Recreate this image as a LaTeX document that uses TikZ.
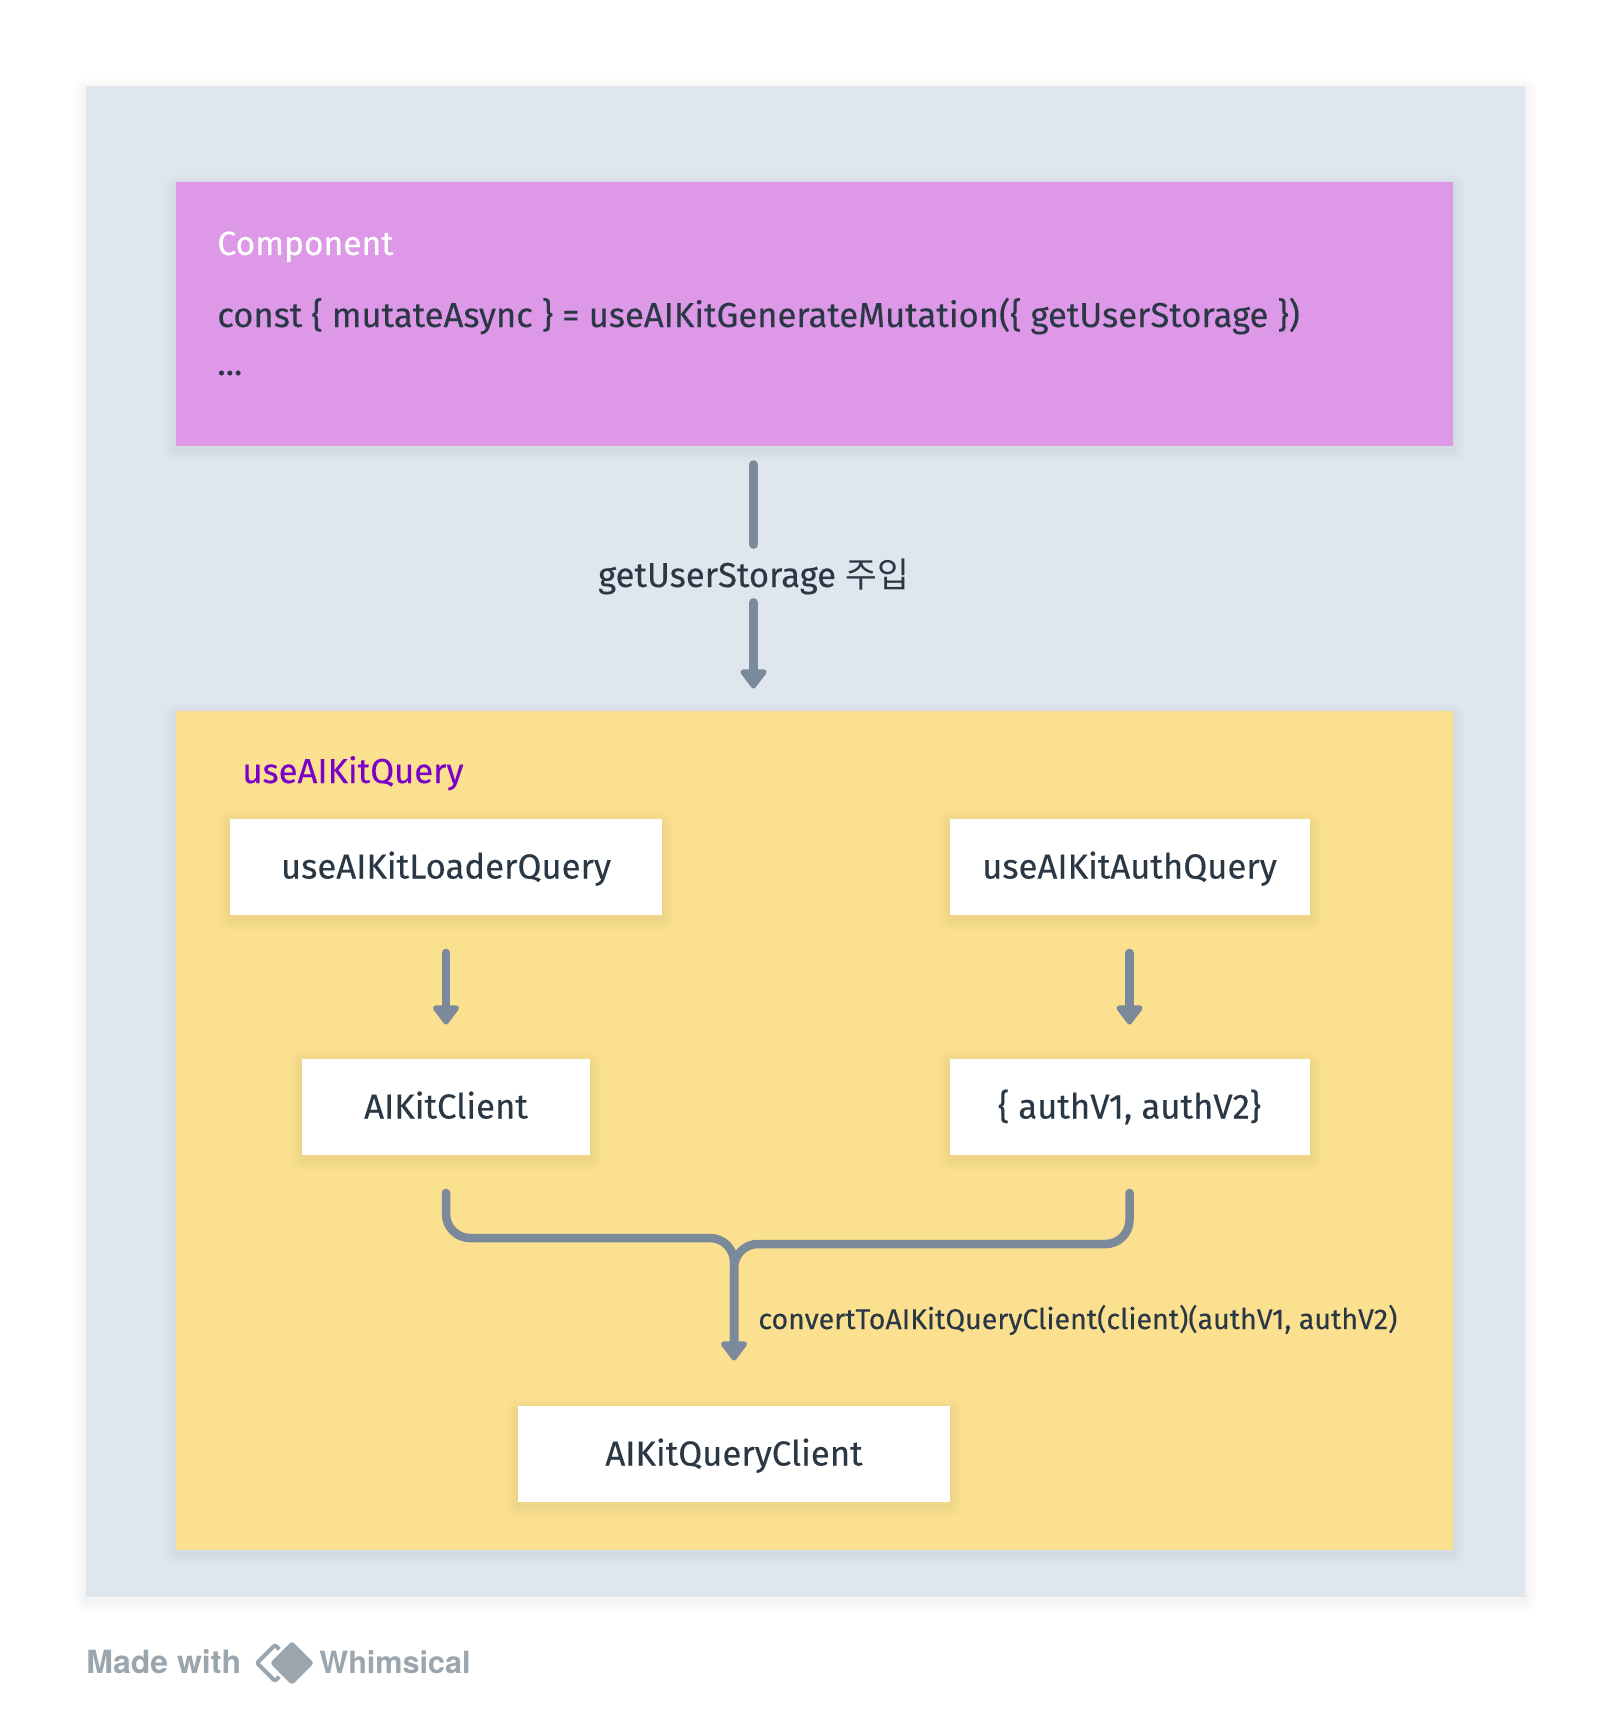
\documentclass[tikz,border=0pt]{standalone}
\usepackage{fontspec}
\usetikzlibrary{arrows.meta}
\setmainfont[FakeBold=0.25]{Fira Sans}
\newfontfamily\krfont{Noto Sans CJK KR}
\newfontfamily\brandfont{TeX Gyre Heros}
\definecolor{grund}{RGB}{223,230,238}
\definecolor{lila}{RGB}{222,152,232}
\definecolor{gelb}{RGB}{250,224,143}
\definecolor{pfeil}{RGB}{123,138,154}
\definecolor{schrift}{RGB}{42,56,70}
\definecolor{violett}{RGB}{123,0,200}
\definecolor{marke}{RGB}{155,165,173}
\tikzset{
    softlayer/.style={preaction={draw=black, draw opacity=0.012, line width=#1, line join=round, transform canvas={yshift=-2pt}}},
    softshadow/.style={softlayer=11pt, softlayer=8pt, softlayer=5pt, softlayer=2pt},
    panel/.style={inner sep=0pt, outer sep=0pt, softshadow},
    codebox/.style={fill=white, inner sep=0pt, outer sep=0pt, minimum height=48pt, text height=12pt, text depth=0pt, softshadow, text=schrift, font=\fontsize{17.35}{20}\selectfont},
    codeline/.style={anchor=base west, inner sep=0pt, text=schrift, font=\fontsize{17.3}{20}\selectfont},
    flowline/.style={draw=pfeil, line width=4.25pt, line cap=round},
    flowarrow/.style={flowline, -{Triangle[width=15pt, length=10.5pt, round]}},
}
\begin{document}
\begin{tikzpicture}[x=0.5pt, y=-0.5pt]
    \useasboundingbox (0,0) rectangle (1612,1728);

    % Flaechen
    \node[panel, fill=grund, minimum width=719.5pt, minimum height=755.5pt] (canvas) at (805.5,841.5) {};
    \node[panel, fill=lila, minimum width=638.5pt, minimum height=132pt] (component) at (814.5,314) {};
    \node[panel, fill=gelb, minimum width=638.5pt, minimum height=419.5pt] (queryPanel) at (814.5,1130) {};

    % Component
    \node[codeline, text=white, font=\fontsize{16.8}{20}\selectfont] (componentTitle) at (217,255) {Component};
    \node[codeline] (componentCode) at (217,327) {const \{ mutateAsync \} = useAIKitGenerateMutation(\{ getUserStorage \})};
    \node[codeline] (componentDots) at (217,375) {...};

    % Injektion
    \node[anchor=base, inner sep=0pt, text height=13pt, text depth=4pt, text=schrift, font=\fontsize{17.3}{20}\selectfont] (inject) at (753.5,587) {getUserStorage {\krfont 주입}};
    \draw[flowline, shorten <=9.2pt, shorten >=8pt] (inject.north |- component.south) -- (inject.north);
    \draw[flowarrow, shorten <=3.5pt, shorten >=11pt] (inject.south) -- (inject.south |- queryPanel.north);

    % useAIKitQuery
    \node[codeline, text=violett] (queryTitle) at (242,783) {useAIKitQuery};
    \node[codebox, minimum width=216pt] (loaderQuery) at (446,866.5) {useAIKitLoaderQuery};
    \node[codebox, minimum width=180pt] (authQuery) at (1129.5,866.5) {useAIKitAuthQuery};
    \node[codebox, minimum width=144pt] (kitClient) at (446,1106.5) {AIKitClient};
    \node[codebox, minimum width=180pt] (authPair) at (1129.5,1106.5) {\{ authV1, authV2\}};
    \node[codebox, minimum width=216pt] (queryClient) at (734,1453.5) {AIKitQueryClient};

    \draw[flowarrow, shorten <=19.2pt, shorten >=17pt] (loaderQuery) -- (kitClient);
    \draw[flowarrow, shorten <=19.2pt, shorten >=17pt] (authQuery) -- (authPair);

    % Zusammenfuehrung
    \coordinate (joinLeft) at (734,1238);
    \coordinate (joinRight) at (734,1244);
    \draw[flowline, rounded corners=12pt, shorten <=19.2pt, shorten >=30pt] (authPair.south) |- (joinRight) -- (queryClient.north);
    \draw[flowarrow, rounded corners=12pt, shorten <=19.2pt, shorten >=22.5pt] (kitClient.south) |- (joinLeft) -- (queryClient.north);
    \node[codeline, font=\fontsize{14.28}{18}\selectfont] (convertLabel) at (758,1329) {convertToAIKitQueryClient(client)(authV1, authV2)};

    % Marke
    \node[anchor=base west, inner sep=0pt, text=marke, font=\brandfont\bfseries\fontsize{16}{18}\selectfont] (madeWith) at (86,1673) {Made with};
    \node[anchor=base west, inner sep=0pt, text=marke, font=\brandfont\bfseries\fontsize{15.3}{18}\selectfont] (whimsical) at (319,1673) {Whimsical};
    \draw[marke, line width=2pt, rounded corners=1pt] (275,1645) -- (257,1663) -- (275,1681) -- (293,1663) -- cycle;
    \fill[marke, rounded corners=1.5pt, preaction={draw=white, line width=3pt}] (292,1641) -- (270,1663) -- (292,1685) -- (314,1663) -- cycle;
\end{tikzpicture}
\end{document}
